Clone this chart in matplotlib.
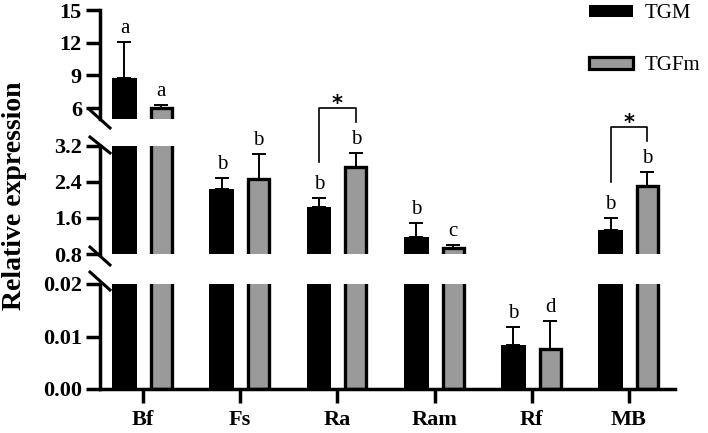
import numpy as np
import matplotlib.pyplot as plt
from matplotlib.lines import Line2D
from matplotlib.patches import Patch

plt.rcParams['font.family'] = ['Liberation Serif', 'DejaVu Serif']

# datos
genes = ['Bf', 'Fs', 'Ra', 'Ram', 'Rf', 'MB']
tgm = [8.8, 2.24, 1.84, 1.18, 0.0084, 1.33]
tgm_err = [3.3, 0.25, 0.2, 0.31, 0.0034, 0.27]
tgfm = [6.0, 2.47, 2.73, 0.93, 0.0076, 2.31]
tgfm_err = [0.3, 0.55, 0.31, 0.07, 0.0054, 0.31]
tgm_letters = ['a', 'b', 'b', 'b', 'b', 'b']
tgfm_letters = ['a', 'b', 'b', 'c', 'd', 'b']
sig_pairs = ['Ra', 'MB']

W, H = 708, 433
fig = plt.figure(figsize=(W / 100, H / 100), dpi=100)

def px(x0, y0, x1, y1):
    # rectangulo en pixeles -> fraccion de figura
    return [x0 / W, 1 - y1 / H, (x1 - x0) / W, (y1 - y0) / H]

ax_top = fig.add_axes(px(100, 10, 675, 119))
ax_mid = fig.add_axes(px(100, 146, 675, 254))
ax_bot = fig.add_axes(px(100, 284, 675, 389))
axes = [ax_top, ax_mid, ax_bot]

x = np.arange(len(genes))
off = 0.19
gray = '#9a9a9a'

for ax in axes:
    ax.bar(x - off, tgm, width=0.255, color='black', edgecolor='black', linewidth=0)
    ax.bar(x + off, tgfm, width=0.215, color=gray, edgecolor='black', linewidth=2.4)
    ax.errorbar(x - off, tgm, yerr=[np.zeros(len(x)), tgm_err], fmt='none',
                ecolor='black', elinewidth=1.4, capsize=5, capthick=1.4)
    ax.errorbar(x + off, tgfm, yerr=[np.zeros(len(x)), tgfm_err], fmt='none',
                ecolor='black', elinewidth=1.4, capsize=5, capthick=1.4)
    ax.set_xlim(-0.442, 5.473)
    ax.spines['top'].set_visible(False)
    ax.spines['right'].set_visible(False)
    ax.spines['left'].set_linewidth(2.5)
    ax.spines['bottom'].set_linewidth(2.5)
    ax.tick_params(axis='y', length=10, width=2.5, pad=3)

ax_top.set_ylim(5, 15)
ax_top.set_yticks([6, 9, 12, 15])
ax_mid.set_ylim(0.8, 3.2)
ax_mid.set_yticks([0.8, 1.6, 2.4, 3.2])
ax_bot.set_ylim(0, 0.02)
ax_bot.set_yticks([0, 0.01, 0.02])
ax_bot.set_yticklabels(['0.00', '0.01', '0.02'])

for ax in [ax_top, ax_mid]:
    ax.spines['bottom'].set_visible(False)
    ax.set_xticks([])
for ax in axes:
    for lab in ax.get_yticklabels():
        lab.set_fontweight('bold')
        lab.set_fontsize(16)

ax_bot.set_xticks(x)
ax_bot.set_xticklabels(genes, fontsize=16, fontweight='bold')
ax_bot.tick_params(axis='x', length=10, width=2.5, pad=5)

# marcas de corte del eje
def brk(x0, y0, x1, y1):
    fig.add_artist(Line2D([x0 / W, x1 / W], [1 - y0 / H, 1 - y1 / H],
                          color='black', lw=2.2, transform=fig.transFigure))

brk(90, 110, 110, 128)
brk(90, 137, 110, 153)
brk(90, 247, 110, 265)
brk(90, 272, 110, 290)

# letras de significancia
def pick_ax(v):
    if v > 5:
        return ax_top
    if v < 0.05:
        return ax_bot
    return ax_mid

for i in range(len(genes)):
    for xs, v, e, let in [(x[i] - off, tgm[i], tgm_err[i], tgm_letters[i]),
                          (x[i] + off, tgfm[i], tgfm_err[i], tgfm_letters[i])]:
        ax = pick_ax(v)
        ax.annotate(let, (xs, v + e), xytext=(0, 6.5), textcoords='offset points',
                    ha='center', va='baseline', fontsize=15, annotation_clip=False)

# corchetes con asterisco
for g in sig_pairs:
    i = genes.index(g)
    lo_l = tgm[i] + tgm_err[i] + 0.8
    lo_r = tgfm[i] + tgfm_err[i] + 0.7
    top = lo_r + 0.3
    ax_mid.plot([x[i] - off, x[i] - off, x[i] + off, x[i] + off],
                [lo_l, top, top, lo_r], color='black', lw=1.2, clip_on=False)
    ax_mid.annotate('*', (x[i], top), xytext=(0, -4), textcoords='offset points',
                    ha='center', va='bottom', fontsize=15, fontweight='bold',
                    family='DejaVu Sans', annotation_clip=False)

fig.text(0.02, 0.547, 'Relative expression', rotation=90, ha='center', va='center',
         fontsize=20, fontweight='bold')

handles = [Patch(facecolor='black', edgecolor='black', linewidth=0),
           Patch(facecolor=gray, edgecolor='black', linewidth=2.3)]
fig.legend(handles, ['TGM', 'TGFm'], loc='upper left', bbox_to_anchor=(589 / W, 1 - 4 / H),
           frameon=False, fontsize=15, handlelength=2.1, handleheight=0.5,
           handletextpad=0.55, labelspacing=1.6, borderpad=0, borderaxespad=0)

fig.savefig('out.png', dpi=100)
